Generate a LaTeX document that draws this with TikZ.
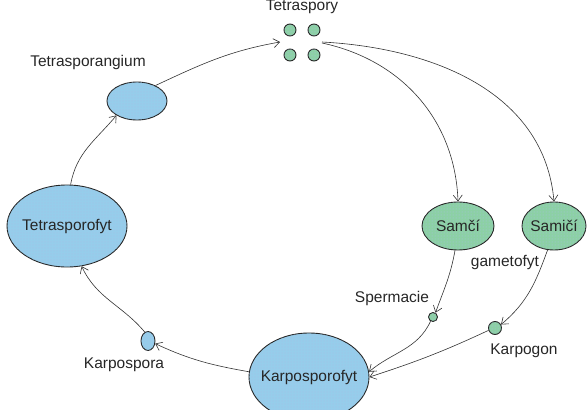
\documentclass[tikz,border=0pt]{standalone}
\usepackage{fontspec}
\setmainfont{Liberation Sans}
\usetikzlibrary{arrows.meta,patterns,shapes.geometric}
\definecolor{bfill}{RGB}{150,205,235}
\definecolor{gfill}{RGB}{140,208,165}
\definecolor{dotc}{RGB}{110,150,210}
\tikzset{
  cell/.style={ellipse, draw=black!85, line width=0.9pt, inner sep=0pt,
    postaction={pattern=dots, pattern color=dotc!60}},
  bcell/.style={cell, fill=bfill},
  gcell/.style={cell, fill=gfill},
  lbl/.style={font=\fontsize{15.5}{17}\selectfont, text=black!85, inner sep=0pt},
  arr/.style={-{Straight Barb[length=6pt,width=9pt]}, line width=0.6pt, black!80},
}
\begin{document}
\begin{tikzpicture}[x=1pt,y=-1pt]
\useasboundingbox (0,0) rectangle (587,410);
\begin{scope}
\clip (0,0) rectangle (587,410);
% spores
\node[gcell, minimum width=12pt, minimum height=12pt] (s1) at (290,30) {};
\node[gcell, minimum width=12pt, minimum height=12pt] (s2) at (314,30) {};
\node[gcell, minimum width=12pt, minimum height=12pt] (s3) at (290,55) {};
\node[gcell, minimum width=12pt, minimum height=12pt] (s4) at (314,55) {};
\node[lbl] (ltsp) at (302,7) {Tetraspory};
\coordinate (tin) at (280,42);
\coordinate (tout1) at (322,42);
\coordinate (tout2) at (322,43);
% tetrasporangium
\node[bcell, minimum width=60pt, minimum height=38pt] (tsa) at (137,101) {};
\node[lbl] (ltsa) at (88,62) {Tetrasporangium};
% tetrasporofyt
\node[bcell, minimum width=120pt, minimum height=82pt] (tsf) at (67,226) {};
\node[lbl] (ltsf) at (tsf) {Tetrasporofyt};
% karpospora
\node[bcell, minimum width=14pt, minimum height=19pt] (ksp) at (148,341) {};
\node[lbl] (lksp) at (124,365) {Karpospora};
% karposporofyt
\node[bcell, minimum width=120pt, minimum height=88pt] (ksf) at (309,377) {};
\node[lbl] (lksf) at (ksf) {Karposporofyt};
% gametophytes
\node[gcell, minimum width=72pt, minimum height=48pt] (sam) at (458,226) {};
\node[lbl] (lsam) at (sam) {Samčí};
\node[gcell, minimum width=64pt, minimum height=48pt] (sami) at (554,226) {};
\node[lbl] (lsami) at (sami) {Samičí};
\node[lbl] (lgam) at (505,262) {gametofyt};
% spermacie, karpogon
\node[gcell, minimum width=9pt, minimum height=9pt] (spm) at (433,317) {};
\node[lbl] (lspm) at (392,298) {Spermacie};
\node[gcell, minimum width=13pt, minimum height=13pt] (kpg) at (495,328) {};
\node[lbl] (lkpg) at (524,351) {Karpogon};
% connectors
\draw[arr] (tsa.40) to[out=25,in=190] (tin);
\draw[arr] (tsf.85) to[out=80,in=-130] (tsa.215);
\draw[arr] (ksp.110) to[out=130,in=-65] (tsf.-70);
\draw[arr] (ksf.175) to[out=170,in=-25] (ksp.-20);
\draw[arr] (tout2) to[out=-12,in=92] (sam.north);
\draw[arr] (tout1) to[out=-3,in=95] (sami.north);
\draw[arr] (sam.-97) to[out=-100,in=70] (spm.60);
\draw[arr] (spm.-120) to[out=-115,in=40] (ksf.5);
\draw[arr] (sami.-105) to[out=-110,in=40] (kpg.30);
\draw[arr] (kpg.-160) to[out=-155,in=18] (ksf.0);
\end{scope}
\end{tikzpicture}
\end{document}
